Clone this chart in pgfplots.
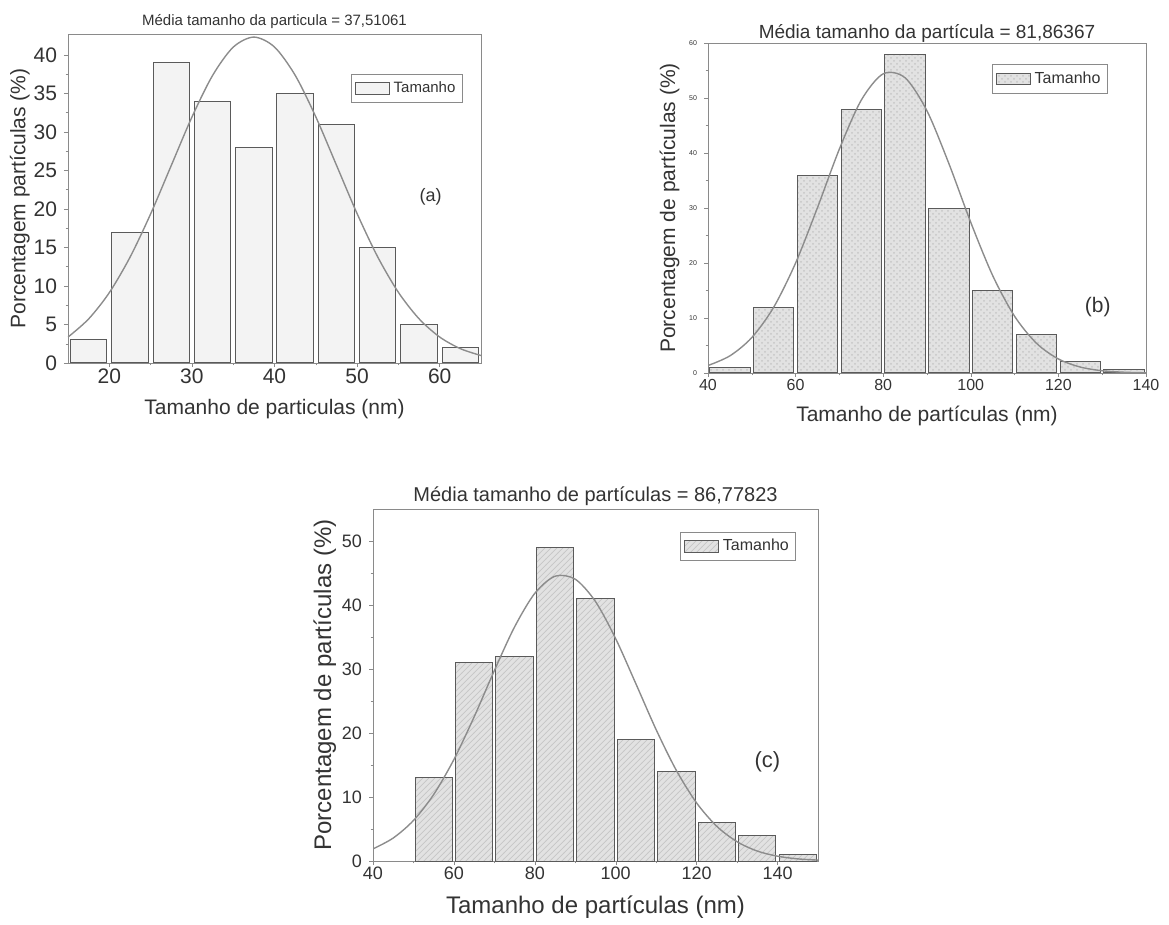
\documentclass[border=0pt]{standalone}
\usepackage{fontspec}
\setmainfont{Liberation Sans}
\usepackage{pgfplots}
\pgfplotsset{compat=1.18}
\usetikzlibrary{patterns}

\definecolor{txt}{HTML}{333333}
\definecolor{axgray}{HTML}{8A8A8A}
\definecolor{edge}{HTML}{5A5A5A}
\definecolor{curve}{HTML}{8C8C8C}
\definecolor{lightfill}{HTML}{F3F3F3}
\definecolor{midfill}{HTML}{E2E2E2}

\pgfplotsset{
  histo/.style={
    scale only axis,
    axis line style={draw=axgray},
    tick style={draw=axgray},
    tick align=outside, tick pos=left,
    major tick length=2pt, minor tick length=1.2pt,
    minor tick num=1,
    /pgf/number format/assume math mode=true,
    tick label style={text=txt},
    xticklabel style={yshift=2.5pt},
    label style={text=txt},
    title style={text=txt},
    legend style={draw=axgray, fill=white, inner sep=1.5pt, text=txt},
    legend cell align=left,
  },
  bars/.style={ybar, bar shift=0pt, draw=edge, line width=0.5pt, area legend},
  fit/.style={curve, line width=0.7pt, smooth, forget plot},
}

\begin{document}
\begin{tikzpicture}
\path (0,0) rectangle (584.5pt,-461pt);

% (a)
\begin{axis}[histo, at={(34pt,-181.5pt)}, anchor=south west,
  width=206.5pt, height=164.5pt,
  xmin=15, xmax=65, ymin=0, ymax=42.7,
  xtick={20,30,40,50,60}, ytick={0,5,...,40},
  tick label style={font=\fontsize{10.5}{12}\selectfont},
  xlabel={Tamanho de particulas (nm)}, ylabel={Porcentagem partículas (\%)},
  label style={font=\fontsize{10.5}{12}\selectfont},
  xlabel style={yshift=-1pt}, ylabel style={yshift=-5pt},
  title={Média tamanho da particula = 37,51061},
  title style={font=\fontsize{7.5}{9}\selectfont, yshift=-7pt},
  legend style={at={(0.956,0.878)}, anchor=north east, font=\fontsize{7.5}{9}\selectfont}]
\addplot[bars, fill=lightfill, bar width=4.4] coordinates {
  (17.5,3) (22.5,17) (27.5,39) (32.5,34) (37.5,28)
  (42.5,35) (47.5,31) (52.5,15) (57.5,5) (62.5,2)};
\addlegendentry{Tamanho}
\addplot[fit] coordinates {
  (15,3.36) (17.5,5.72) (20,9.13) (22.5,13.71) (25,19.34) (27.5,25.63)
  (30,31.91) (32.5,37.31) (35,40.99) (37.5,42.3) (40,41.01) (42.5,37.35)
  (45,31.95) (47.5,25.68) (50,19.39) (52.5,13.76) (55,9.17) (57.5,5.74)
  (60,3.37) (62.5,1.86) (65,0.97)};
\node[text=txt, font=\fontsize{9}{11}\selectfont] at (axis cs:58.9,21.6) {(a)};
\end{axis}

% (b)
\begin{axis}[histo, at={(354pt,-186.5pt)}, anchor=south west,
  width=219pt, height=165pt,
  xmin=40, xmax=140, ymin=0, ymax=60,
  xtick={40,60,...,140}, ytick={0,10,...,60},
  xticklabel style={font=\fontsize{8}{10}\selectfont},
  yticklabel style={font=\fontsize{3.5}{4}\selectfont},
  xlabel={Tamanho de partículas (nm)}, ylabel={Porcentagem de partículas (\%)},
  label style={font=\fontsize{10.5}{12}\selectfont},
  xlabel style={yshift=-1pt}, ylabel style={yshift=-2pt},
  title={Média tamanho da partícula = 81,86367},
  title style={font=\fontsize{9.5}{11}\selectfont, yshift=-9.5pt},
  legend style={at={(0.913,0.936)}, anchor=north east, font=\fontsize{8}{10}\selectfont}]
\addplot[bars, fill=midfill, bar width=9.2,
  postaction={pattern=crosshatch dots, pattern color=gray!45}] coordinates {
  (45,1) (55,12) (65,36) (75,48) (85,58)
  (95,30) (105,15) (115,7) (125,2) (135,0.7)};
\addlegendentry{Tamanho}
\addplot[fit] coordinates {
  (40,1.36) (45,3.12) (50,6.44) (55,11.96) (60,20.0) (65,30.08) (70,40.73)
  (75,49.62) (80,54.4) (85,53.67) (90,47.65) (95,38.07) (100,27.37)
  (105,17.71) (110,10.31) (115,5.40) (120,2.55) (125,1.08) (130,0.41)
  (135,0.14) (140,0.04)};
\node[text=txt, font=\fontsize{10.5}{12}\selectfont] at (axis cs:129,12) {(b)};
\end{axis}

% (c)
\begin{axis}[histo, at={(186.5pt,-430.5pt)}, anchor=south west,
  width=222.5pt, height=176pt,
  xmin=40, xmax=150, ymin=0, ymax=55,
  xtick={40,60,...,140}, ytick={0,10,...,50},
  tick label style={font=\fontsize{9}{11}\selectfont},
  xlabel={Tamanho de partículas (nm)}, ylabel={Porcentagem de partículas (\%)},
  label style={font=\fontsize{12}{14}\selectfont},
  xlabel style={yshift=-1pt}, ylabel style={yshift=-4pt},
  title={Média tamanho de partículas = 86,77823},
  title style={font=\fontsize{10}{12}\selectfont, yshift=-8pt},
  legend style={at={(0.951,0.935)}, anchor=north east, font=\fontsize{8}{10}\selectfont}]
\addplot[bars, fill=midfill, bar width=9.2,
  postaction={pattern=north east lines, pattern color=gray!45}] coordinates {
  (55,13) (65,31) (75,32) (85,49) (95,41)
  (105,19) (115,14) (125,6) (135,4) (145,1)};
\addlegendentry{Tamanho}
\addplot[fit] coordinates {
  (40,1.89) (45,3.59) (50,6.33) (55,10.39) (60,15.86) (65,22.52) (70,29.76)
  (75,36.58) (80,41.83) (85,44.5) (90,44.03) (95,40.54) (100,34.72)
  (105,27.67) (110,20.51) (115,14.14) (120,9.07) (125,5.41) (130,3.01)
  (135,1.55) (140,0.75) (145,0.33) (150,0.14)};
\node[text=txt, font=\fontsize{11}{13}\selectfont] at (axis cs:137.5,15.5) {(c)};
\end{axis}
\end{tikzpicture}
\end{document}
